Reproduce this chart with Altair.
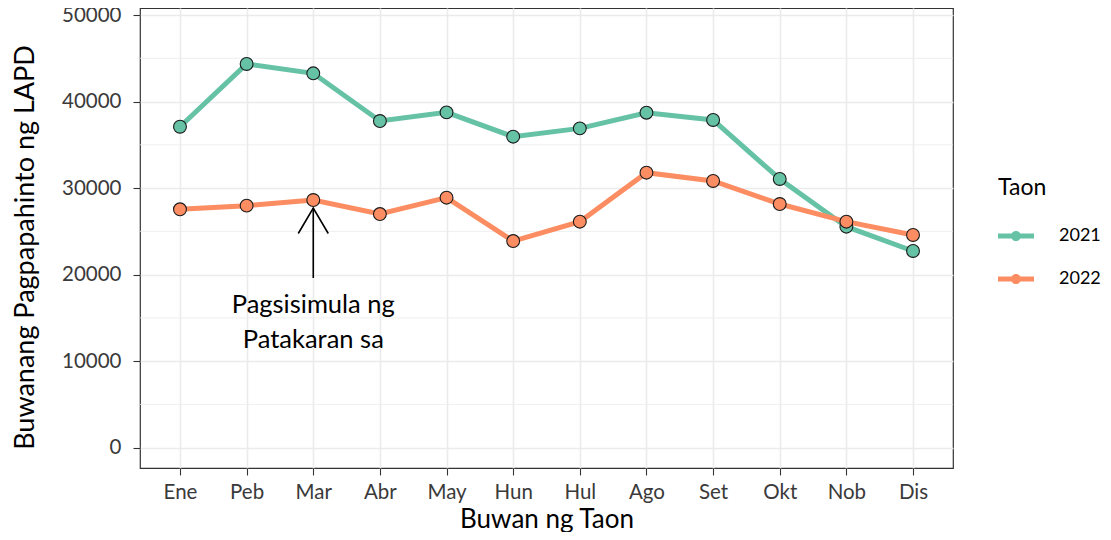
import altair as alt
import pandas as pd

MONTHS = ["Ene", "Peb", "Mar", "Abr", "May", "Hun", "Hul", "Ago", "Set", "Okt", "Nob", "Dis"]
Y2021 = [37090, 44340, 43260, 37750, 38750, 35940, 36900, 38710, 37870, 31050, 25540, 22730]
Y2022 = [27550, 27970, 28620, 27000, 28890, 23880, 26120, 31780, 30820, 28160, 26120, 24580]
YEARS = ["2021", "2022"]
COLORS = ["#66C2A5", "#FC8D62"]
Y_TICKS = [0, 10000, 20000, 30000, 40000, 50000]
Y_MINOR = [5000, 15000, 25000, 35000, 45000]
Y_DOMAIN = [-2346, 50809]

ANNOT_MONTH = "Mar"
ARROW_TAIL = 19610
ARROW_TIP = 27700
ANNOT_TEXT = ["Pagsisimula ng", "Patakaran sa"]
ANNOT_Y = 15540

FONT = "Lato"

rows = []
for m, a, b in zip(MONTHS, Y2021, Y2022):
    rows.append({"Buwan": m, "Taon": YEARS[0], "Halaga": a})
    rows.append({"Buwan": m, "Taon": YEARS[1], "Halaga": b})
df = pd.DataFrame(rows)

xscale = alt.Scale(domain=MONTHS, type="point", padding=0.6)
yscale = alt.Scale(domain=Y_DOMAIN, nice=False, zero=False)
cscale = alt.Scale(domain=YEARS, range=COLORS)

x_enc = alt.X("Buwan:N", scale=xscale, sort=MONTHS,
              axis=alt.Axis(title="Buwan ng Taon", labelAngle=0, grid=True))
y_enc = alt.Y("Halaga:Q", scale=yscale,
              axis=alt.Axis(title="Buwanang Pagpapahinto ng LAPD", values=Y_TICKS,
                            format="d", grid=True))

LEGEND_PATH = ("M-1,-0.14L1,-0.14L1,0.14L-1,0.14Z "
               "M-0.28,0A0.28,0.28 0 1,1 0.28,0A0.28,0.28 0 1,1 -0.28,0Z")


def make_legend():
    return alt.Legend(
        title="Taon", orient="none", legendX=858, legendY=169,
        symbolType=LEGEND_PATH, symbolSize=1296, symbolStrokeWidth=0,
        symbolOpacity=1,
        titleFontSize=23, labelFontSize=18, titlePadding=18, rowPadding=16,
        labelOffset=25, titleFontWeight="normal", padding=0,
    )


minor = alt.Chart(pd.DataFrame({"v": Y_MINOR})).mark_rule(
    color="#EBEBEB", strokeWidth=0.8
).encode(y=alt.Y("v:Q", scale=yscale))

base = alt.Chart(df)

lines = base.mark_line(strokeWidth=5).encode(
    x=x_enc, y=y_enc,
    color=alt.Color("Taon:N", scale=cscale, legend=make_legend()),
)

points = base.mark_point(filled=True, size=165, stroke="#1a1a1a", strokeWidth=1.1, opacity=1).encode(
    x=x_enc, y=y_enc,
    color=alt.Color("Taon:N", scale=cscale, legend=make_legend()),
)

annot_df = pd.DataFrame({"Buwan": [ANNOT_MONTH], "tail": [ARROW_TAIL], "tip": [ARROW_TIP],
                         "ty": [ANNOT_Y]})
annot_base = alt.Chart(annot_df)

arrow_rule = annot_base.mark_rule(color="black", strokeWidth=1.6).encode(
    x=alt.X("Buwan:N", scale=xscale),
    y=alt.Y("tail:Q", scale=yscale),
    y2="tip:Q",
)
arrow_head = annot_base.mark_point(
    shape="M-1,1.7L0,0L1,1.7", size=900, filled=False, stroke="black", strokeWidth=1.6, opacity=1
).encode(
    x=alt.X("Buwan:N", scale=xscale),
    y=alt.Y("tip:Q", scale=yscale),
)
annot_text = annot_base.mark_text(
    text=ANNOT_TEXT, fontSize=25.5, align="center", baseline="alphabetic", lineHeight=35,
    color="black", font=FONT,
).encode(
    x=alt.X("Buwan:N", scale=xscale),
    y=alt.Y("ty:Q", scale=yscale),
)

chart = alt.layer(minor, lines, points, arrow_rule, arrow_head, annot_text).properties(
    width=813, height=460,
    autosize=alt.AutoSizeParams(type="none"),
    padding={"left": 132, "top": 0, "right": 150, "bottom": 64},
).configure(font=FONT).configure_view(
    stroke="#333333", strokeWidth=1.2
).configure_axis(
    domain=False, gridColor="#EBEBEB", gridWidth=1.6,
    tickColor="#333333", tickSize=7, tickWidth=1.1,
    labelFont=FONT, labelFontSize=20.5, labelColor="#3a3a3a",
    titleFont=FONT, titleFontSize=26, titleFontWeight="normal", titleColor="black",
).configure_axisX(
    labelPadding=7, titleBaseline="alphabetic", titleY=59,
).configure_axisY(
    labelPadding=12, titleBaseline="alphabetic", titleX=-107, titleY=239,
    titleFontSize=27,
).configure_legend(
    titleFont=FONT, labelFont=FONT, labelColor="black", titleColor="black",
)

chart.save("out.html", embed_options={"renderer": "svg", "actions": False})
